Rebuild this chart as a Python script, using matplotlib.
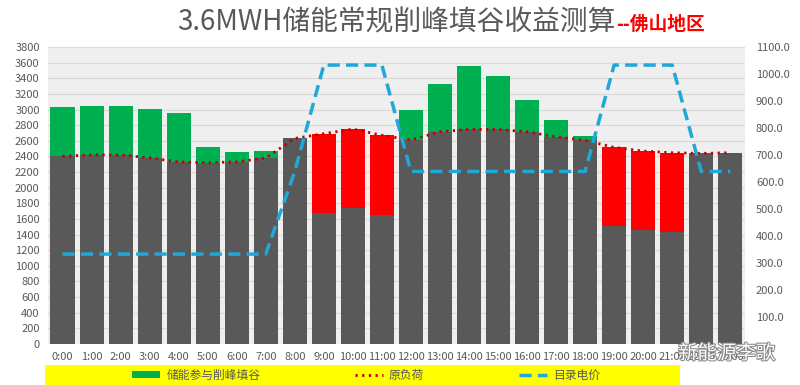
import numpy as np
import matplotlib.pyplot as plt
import matplotlib.patheffects as pe
from matplotlib.patches import Rectangle
from matplotlib.lines import Line2D
from matplotlib.patches import Patch

plt.rcParams['font.family'] = ['Noto Sans CJK SC', 'DejaVu Sans']

hours = ['%d:00' % h for h in range(24)]
# original load (kW)
load = [2400, 2420, 2420, 2380, 2330, 2320, 2330, 2380, 2630, 2690, 2750, 2670,
        2610, 2715, 2745, 2745, 2715, 2650, 2605, 2515, 2468, 2447, 2438, 2447]
# storage charging (valley / flat)
charge = [630, 620, 630, 630, 630, 200, 130, 90, 0, 0, 0, 0,
          390, 610, 810, 690, 410, 210, 50, 0, 0, 0, 0, 0]
# storage discharging (peak)
discharge = [0, 0, 0, 0, 0, 0, 0, 0, 0, 1020, 1010, 1025,
             0, 0, 0, 0, 0, 0, 0, 1000, 1010, 1010, 0, 0]
# catalogue electricity price
price = [333, 333, 333, 333, 333, 333, 333, 333, 639, 1033, 1033, 1033,
         639, 639, 639, 639, 639, 639, 639, 1033, 1033, 1033, 639, 639]

GRAY = '#595959'
x = np.arange(len(hours))
load = np.array(load)
charge = np.array(charge)
discharge = np.array(discharge)
base = load - discharge

fig = plt.figure(figsize=(8, 3.85), dpi=100)
ax = fig.add_axes([0.06, 0.1065, 0.871, 0.7715])
ax.set_facecolor('#EFEFEF')

w = 0.83
ax.bar(x, base, w, color=GRAY, zorder=2)
ax.bar(x, charge, w, bottom=load, color='#00B050', zorder=2)
ax.bar(x, discharge, w, bottom=base, color='#FF0000', zorder=2)
ax.plot(x, load, color='#C00000', lw=2, ls=(0, (0.8, 1.6)), zorder=3)

ax.set_xlim(-0.5, 23.5)
ax.set_ylim(0, 3800)
ax.set_yticks(range(0, 3801, 200))
ax.set_xticks(x)
ax.set_xticklabels(hours)
ax.grid(axis='y', color='#D9D9D9', lw=0.8, zorder=0)
ax.set_axisbelow(True)
ax.tick_params(length=0, labelsize=8, labelcolor=GRAY, pad=6)
for s in ax.spines.values():
    s.set_visible(False)

ax2 = ax.twinx()
ax2.plot(x, price, color='#1FA8D8', lw=2.5, ls=(0, (3.5, 1.8)), zorder=4)
ax2.set_ylim(0, 1100)
ax2.set_yticks(range(100, 1101, 100))
ax2.set_yticklabels(['%.1f' % v for v in range(100, 1101, 100)])
ax2.tick_params(length=0, labelsize=8, labelcolor=GRAY, pad=8)
for s in ax2.spines.values():
    s.set_visible(False)

# title
t1 = fig.text(177 / 800, 1 - 30 / 385, '3.6MWH储能常规削峰填谷收益测算', fontsize=20,
              color=GRAY, ha='left', va='baseline')
fig.canvas.draw()
bb = t1.get_window_extent()
fig.text(bb.x1 / 800 + 0.001, 1 - 30 / 385, '--佛山地区', fontsize=13.5,
         fontweight='bold', color='#FF0000', ha='left', va='baseline')

# yellow legend band
fig.patches.append(Rectangle((45 / 800, 0), 635 / 800, 20 / 385, transform=fig.transFigure,
                             facecolor='#FFFF00', edgecolor='none', zorder=0))
handles = [Patch(facecolor='#00B050'),
           Line2D([], [], color='#C00000', lw=2, ls=(0, (0.8, 1.6))),
           Line2D([], [], color='#1FA8D8', lw=2.5, ls=(0, (3.5, 1.8)))]
fig.legend(handles, ['储能参与削峰填谷', '原负荷', '目录电价'], loc='center',
           bbox_to_anchor=(366 / 800, 1 - 375 / 385), ncol=3, frameon=False,
           fontsize=8.5, labelcolor=GRAY, handlelength=2.4, handleheight=0.6,
           columnspacing=8, handletextpad=0.5)

# watermark
fig.text(678 / 800, 1 - 359 / 385, '新能源李歌', fontsize=14, color='white', ha='left',
         va='baseline', path_effects=[pe.withStroke(linewidth=1.5, foreground='#888888')])

fig.savefig('out.png', dpi=100)
